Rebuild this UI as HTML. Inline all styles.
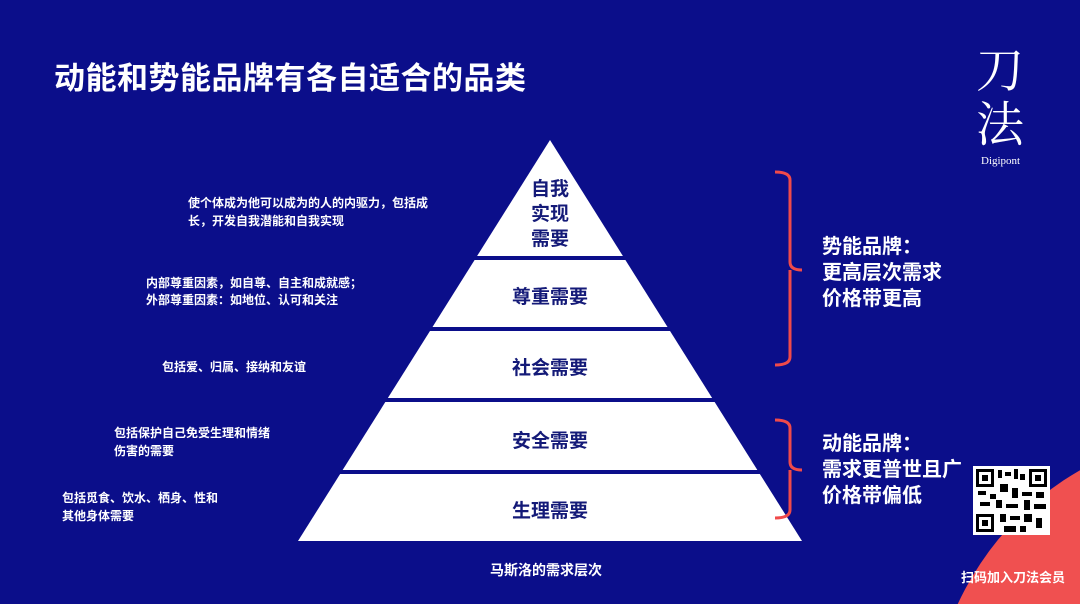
<!DOCTYPE html>
<html style="overflow:hidden"><head><meta charset="utf-8"><style>
html,body{margin:0;padding:0}
body{width:1080px;height:604px;overflow:hidden;background:#0b0e8a;font-family:"Liberation Sans","Noto Sans CJK SC",sans-serif;position:relative}
.t{position:absolute;color:#fff;white-space:nowrap}
</style></head><body>
<svg width="1080" height="604" style="position:absolute;left:0;top:0;display:block">
<circle cx="1230" cy="730" r="300" fill="#f05050"/>
<g stroke="#14188f" stroke-width="1">
<line x1="305" y1="258" x2="790" y2="258"/><line x1="305" y1="329" x2="790" y2="329"/>
<line x1="305" y1="400" x2="790" y2="400"/><line x1="305" y1="472" x2="790" y2="472"/></g>
<polygon points="550,140 802,541 298,541" fill="#fff"/>
<g stroke="#0b0e8a" stroke-width="4">
<line x1="300" y1="258" x2="800" y2="258"/><line x1="300" y1="329" x2="800" y2="329"/>
<line x1="300" y1="400" x2="800" y2="400"/><line x1="300" y1="472" x2="800" y2="472"/></g>
<g fill="none" stroke="#f04a4a" stroke-width="3">
<path d="M775,172 Q790,172 790,180 L790,262 Q790,270 802,270 M790,270 Q790,278 790,286 L790,357 Q790,365 775,365"/>
<path d="M775,420 Q790,420 790,428 L790,462 Q790,470 802,470 M790,470 Q790,478 790,486 L790,510 Q790,518 775,518"/>
</g>
<rect x="973" y="466" width="77" height="69" fill="#fff"/>
<g fill="#000">
<rect x="976" y="469" width="18" height="18"/><rect x="1029" y="469" width="18" height="18"/><rect x="976" y="514" width="18" height="18"/>
<rect x="998" y="470" width="4" height="8"/><rect x="1005" y="472" width="6" height="4"/><rect x="1014" y="469" width="4" height="10"/><rect x="1020" y="474" width="5" height="6"/>
<rect x="978" y="491" width="8" height="4"/><rect x="990" y="494" width="6" height="5"/><rect x="1000" y="484" width="8" height="8"/><rect x="1012" y="488" width="6" height="10"/>
<rect x="1022" y="492" width="10" height="4"/><rect x="1036" y="492" width="8" height="6"/><rect x="980" y="502" width="10" height="4"/><rect x="996" y="500" width="6" height="8"/>
<rect x="1006" y="504" width="12" height="4"/><rect x="1024" y="500" width="6" height="10"/><rect x="1034" y="504" width="12" height="5"/><rect x="1000" y="514" width="6" height="8"/>
<rect x="1010" y="516" width="10" height="4"/><rect x="1024" y="514" width="8" height="8"/><rect x="1036" y="518" width="6" height="10"/><rect x="1004" y="526" width="12" height="6"/><rect x="1020" y="526" width="6" height="6"/>
</g>
<g fill="#fff"><rect x="979" y="472" width="12" height="12"/><rect x="1032" y="472" width="12" height="12"/><rect x="979" y="517" width="12" height="12"/></g>
<g fill="#000"><rect x="982" y="475" width="6" height="6"/><rect x="1035" y="475" width="6" height="6"/><rect x="982" y="520" width="6" height="6"/></g>
</svg>
<div class="t" style="left:54px;top:53px;font-size:31px;font-weight:bold;letter-spacing:0.5px">动能和势能品牌有各自适合的品类</div>
<div class="t" style="left:976px;top:40px;font-size:48px;font-family:'Noto Serif CJK SC',serif;line-height:54px;">刀<br>法</div>
<div class="t" style="left:981px;top:155px;font-size:11px;font-family:'Liberation Serif',serif">Digipont</div>
<div style="position:absolute;left:500px;top:177px;width:100px;text-align:center;color:#141a78;font-weight:bold;font-size:19px;line-height:25px">自我<br>实现<br>需要</div>
<div style="position:absolute;left:450px;top:282px;width:200px;text-align:center;color:#141a78;font-weight:bold;font-size:19px">尊重需要</div>
<div style="position:absolute;left:450px;top:353px;width:200px;text-align:center;color:#141a78;font-weight:bold;font-size:19px">社会需要</div>
<div style="position:absolute;left:450px;top:426px;width:200px;text-align:center;color:#141a78;font-weight:bold;font-size:19px">安全需要</div>
<div style="position:absolute;left:450px;top:496px;width:200px;text-align:center;color:#141a78;font-weight:bold;font-size:19px">生理需要</div>
<div class="t" style="left:188px;top:194px;font-size:12px;line-height:18px;font-weight:bold">使个体成为他可以成为的人的内驱力，包括成<br>长，开发自我潜能和自我实现</div>
<div class="t" style="left:146px;top:275px;font-size:12px;line-height:17px;font-weight:bold">内部尊重因素，如自尊、自主和成就感；<br>外部尊重因素：如地位、认可和关注</div>
<div class="t" style="left:162px;top:358px;font-size:12px;font-weight:bold">包括爱、归属、接纳和友谊</div>
<div class="t" style="left:114px;top:424px;font-size:12px;line-height:18px;font-weight:bold">包括保护自己免受生理和情绪<br>伤害的需要</div>
<div class="t" style="left:62px;top:489px;font-size:12px;line-height:18px;font-weight:bold">包括觅食、饮水、栖身、性和<br>其他身体需要</div>
<div class="t" style="left:490px;top:560px;font-size:14px;font-weight:bold">马斯洛的需求层次</div>
<div class="t" style="left:822px;top:234px;font-size:20px;line-height:26px;font-weight:bold">势能品牌：<br>更高层次需求<br>价格带更高</div>
<div class="t" style="left:822px;top:431px;font-size:20px;line-height:26px;font-weight:bold">动能品牌：<br>需求更普世且广<br>价格带偏低</div>
<div class="t" style="left:961px;top:567px;font-size:13px;font-weight:bold">扫码加入刀法会员</div>
</body></html>
